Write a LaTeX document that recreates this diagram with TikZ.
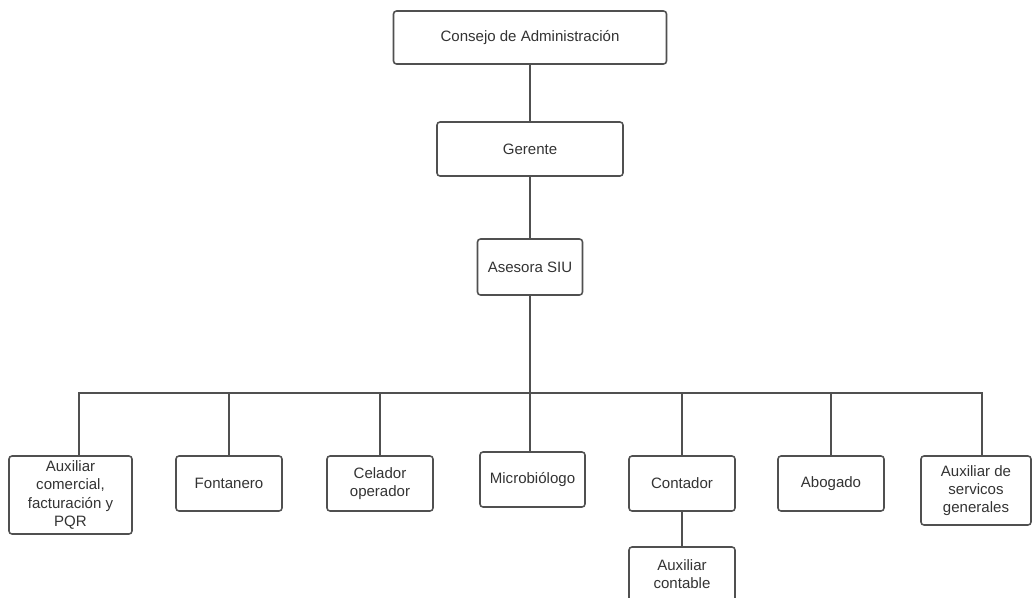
\documentclass[tikz,border=0pt]{standalone}
\usepackage{fontspec}
\setmainfont{Liberation Sans}
\usepackage{tikz}
\usetikzlibrary{positioning}
\definecolor{linegray}{HTML}{505050}
\definecolor{textgray}{HTML}{333333}

\begin{document}
\begin{tikzpicture}[
  node distance=1.45cm and 1.1cm,
  box/.style={rectangle, rounded corners=0.075cm, draw=linegray, line width=1.1pt, outer sep=0pt, align=center, text=textgray, font=\fontsize{10.7}{12.9}\selectfont, inner sep=2pt, minimum width=2.65cm, minimum height=1.375cm},
  wide/.style={box, minimum width=3.075cm},
  link/.style={draw=linegray, line width=1.1pt}
]
  \useasboundingbox (0,0) rectangle (25.8,-14.95);
  \clip (0,0) rectangle (25.8,-14.95);
  \node[box, minimum width=6.825cm, minimum height=1.325cm] (consejo) at (13.25,-0.9375) {Consejo de Administración};
  \node[box, minimum width=4.65cm, minimum height=1.35cm, below=1.45cm of consejo] (gerente) {Gerente};
  \node[box, minimum width=2.625cm, minimum height=1.4cm, below=1.575cm of gerente] (asesora) {Asesora SIU};
  \coordinate (bus) at ([yshift=-2.45cm]asesora.south);
  \node[wide, minimum height=1.95cm, anchor=north] (auxcom) at (1.7625,-11.4) {Auxiliar\\comercial,\\facturación y\\PQR};
  \node[box, right=1.1cm of auxcom.north east, anchor=north west] (fontanero) {Fontanero};
  \node[box, right=1.125cm of fontanero.north east, anchor=north west] (celador) {Celador\\operador};
  \node[box, minimum width=2.625cm, right=1.175cm of celador.north east, anchor=north west, yshift=0.1cm] (micro) {Microbiólogo};
  \node[box, right=1.1cm of micro.north east, anchor=north west, yshift=-0.1cm] (contador) {Contador};
  \node[box, right=1.075cm of contador.north east, anchor=north west] (abogado) {Abogado};
  \node[box, minimum width=2.75cm, minimum height=1.725cm, right=0.925cm of abogado.north east, anchor=north west] (servicios) {Auxiliar de\\servicos\\generales};
  \node[box, below=0.9cm of contador] (auxcont) {Auxiliar\\contable};
  \draw[link] (consejo.south) -- (gerente.north);
  \draw[link] (gerente.south) -- (asesora.north);
  \draw[link] (asesora.south) -- (bus);
  \draw[link] (bus) -| ([xshift=0.2125cm]auxcom.north);
  \draw[link] (bus) -| (fontanero.north);
  \draw[link] (bus) -| (celador.north);
  \draw[link] (bus) -- (bus |- micro.north);
  \draw[link] (bus) -| (contador.north);
  \draw[link] (bus) -| (abogado.north);
  \draw[link] (bus) -| ([xshift=0.15cm]servicios.north);
  \draw[link] (contador.south) -- (auxcont.north);
\end{tikzpicture}
\end{document}
